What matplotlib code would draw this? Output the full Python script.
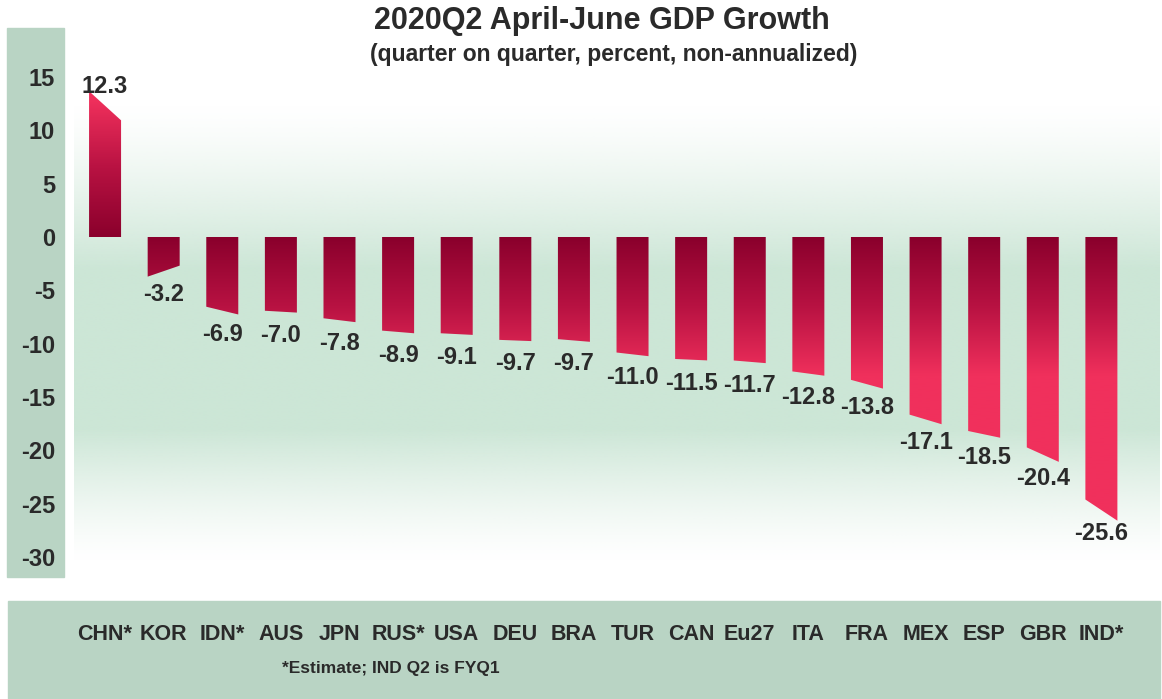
import numpy as np
import matplotlib
matplotlib.use('Agg')
import matplotlib.pyplot as plt
from matplotlib.colors import LinearSegmentedColormap, to_rgb
from matplotlib.patches import Polygon, Rectangle
from matplotlib.transforms import blended_transform_factory

plt.rcParams['font.family'] = ['Liberation Sans', 'DejaVu Sans']
plt.rcParams['font.weight'] = 'bold'

# данные
countries = ['CHN*', 'KOR', 'IDN*', 'AUS', 'JPN', 'RUS*', 'USA', 'DEU', 'BRA',
             'TUR', 'CAN', 'Eu27', 'ITA', 'FRA', 'MEX', 'ESP', 'GBR', 'IND*']
growth = [12.3, -3.2, -6.9, -7.0, -7.8, -8.9, -9.1, -9.7, -9.7,
          -11.0, -11.5, -11.7, -12.8, -13.8, -17.1, -18.5, -20.4, -25.6]
yticks = [15, 10, 5, 0, -5, -10, -15, -20, -25, -30]

title = '2020Q2 April-June GDP Growth'
subtitle = '(quarter on quarter, percent, non-annualized)'
footnote = '*Estimate; IND Q2 is FYQ1'

W, H = 1162, 699
TXT = '#2a2a2a'
PANEL = '#b9d4c4'

fig = plt.figure(figsize=(W / 100, H / 100), dpi=100)
fig.patch.set_facecolor('white')

# боковая и нижняя панели
fig.patches.append(Rectangle((7 / W, 1 - 577 / H), 57 / W, 549 / H,
                             transform=fig.transFigure, color=PANEL, zorder=-1))
fig.patches.append(Rectangle((8 / W, 0), 1152 / W, 98 / H,
                             transform=fig.transFigure, color=PANEL, zorder=-1))

ax = fig.add_axes([74 / W, 1 - 577 / H, 1086 / W, 549 / H])
ax.set_zorder(2)
ax.set_facecolor('none')
for s in ax.spines.values():
    s.set_visible(False)

n = len(growth)
x0, x1 = -0.53, 18.0
y0, y1 = -31.87, 19.59
ax.set_xlim(x0, x1)
ax.set_ylim(y0, y1)

# фон: зелёная полоса с растушёвкой сверху и снизу
yy = np.linspace(y0, y1, 400)
alpha = np.interp(yy, [-30.5, -18, -3, 12.5], [0, 1, 1, 0])
alpha = np.clip(alpha, 0, 1) ** 1.3
g = np.array(to_rgb('#cce6d6'))
bg = np.zeros((400, 2, 4))
bg[:, :, :3] = g
bg[:, :, 3] = alpha[:, None]
ax.imshow(bg, extent=[x0, x1, y0, y1], origin='lower', aspect='auto',
          zorder=0, interpolation='bilinear')

# градиент столбцов: тёмный у нуля, розовый дальше от нуля
cmap = LinearSegmentedColormap.from_list('bar', ['#8a002c', '#b81242', '#f0305c'])
t = np.clip(np.abs(yy) / 13.0, 0, 1)
grad = cmap(t)[:, None, :]

mag = np.abs(np.array(growth))
slope = np.clip(0.7 * np.gradient(mag), -5, 5)
w = 0.273
for i, v in enumerate(growth):
    xs = np.linspace(i - w, i + w, 30)
    end = np.sign(v) * (abs(v) + slope[i] * (xs - i))
    pts = [(i - w, 0)] + list(zip(xs, end)) + [(i + w, 0)]
    poly = Polygon(pts, closed=True, facecolor='none', edgecolor='none',
                   transform=ax.transData)
    ax.add_patch(poly)
    im = ax.imshow(grad, extent=[x0, x1, y0, y1], origin='lower',
                   aspect='auto', zorder=2)
    im.set_clip_path(poly)
    if v > 0:
        ax.text(i, v + 1.8, f'{v:.1f}', ha='center', va='center',
                fontsize=17, color=TXT)
    else:
        ax.text(i, v - 2.2, f'{v:.1f}', ha='center', va='center',
                fontsize=17, color=TXT)

ax.set_yticks(yticks)
ax.set_yticklabels([str(t) for t in yticks])
ax.tick_params(axis='y', length=0, pad=13.7, labelsize=17, labelcolor=TXT)
ax.set_xticks([])

# подписи стран в нижней панели
tr = blended_transform_factory(ax.transData, fig.transFigure)
for i, c in enumerate(countries):
    ax.text(i, 1 - 634 / H, c, transform=tr, ha='center', va='center',
            fontsize=15.5, color=TXT)

fig.text(391 / W, 1 - 668 / H, footnote, ha='center', va='center',
         fontsize=12.5, color=TXT)
fig.text(602 / W, 1 - 21 / H, title, ha='center', va='center',
         fontsize=22, color=TXT)
fig.text(614 / W, 1 - 55 / H, subtitle, ha='center', va='center',
         fontsize=16.5, color=TXT)

plt.savefig('out.png', dpi=100)
